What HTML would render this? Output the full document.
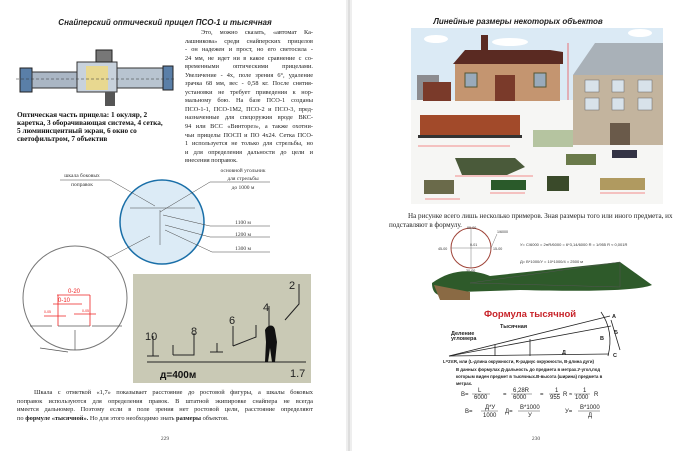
<!DOCTYPE html>
<html><head><meta charset="utf-8"><style>
html,body{margin:0;padding:0;background:#fff;}
body{width:700px;height:451px;overflow:hidden;position:relative;font-family:"Liberation Serif",serif;}
.col{position:absolute;font-size:6.3px;line-height:8.55px;color:#222;}
.col div{text-align:justify;text-align-last:justify;white-space:nowrap;}
.col div.l{text-align-last:left;}
</style></head><body>
<svg width="700" height="451" style="position:absolute;left:0;top:0" font-family="Liberation Sans, sans-serif">
<rect x="346" y="0" width="6" height="451" fill="#eee"/>
<line x1="349" y1="0" x2="349" y2="451" stroke="#ccc"/>
<text x="165" y="25" font-size="8" font-style="italic" font-weight="bold" text-anchor="middle" fill="#222">Снайперский оптический прицел ПСО-1 и тысячная</text>
<g>
<rect x="20" y="68" width="12" height="24" fill="#5a7fa8" stroke="#222"/>
<rect x="32" y="72" width="45" height="16" fill="#aab6c4" stroke="#333"/>
<rect x="77" y="62" width="40" height="30" fill="#c8d2dc" stroke="#333"/>
<rect x="86" y="66" width="22" height="24" fill="#e8d890"/>
<rect x="96" y="50" width="16" height="12" fill="#777" stroke="#222"/>
<rect x="105" y="92" width="10" height="14" fill="#555"/>
<rect x="117" y="68" width="50" height="20" fill="#b8c4d0" stroke="#333"/>
<rect x="163" y="66" width="10" height="24" fill="#5a7fa8" stroke="#222"/>
<line x1="16" y1="79" x2="176" y2="79" stroke="#333" stroke-dasharray="3,2" stroke-width=".6"/>
</g>
<text x="17" y="117" font-family="Liberation Serif, serif" font-weight="bold" font-size="7.3" fill="#111">Оптическая часть прицела: 1 окуляр, 2</text>
<text x="17" y="125" font-family="Liberation Serif, serif" font-weight="bold" font-size="7.3" fill="#111">каретка, 3 оборачивающая система, 4 сетка,</text>
<text x="17" y="133" font-family="Liberation Serif, serif" font-weight="bold" font-size="7.3" fill="#111">5 люминисцентный экран, 6 окно со</text>
<text x="17" y="141" font-family="Liberation Serif, serif" font-weight="bold" font-size="7.3" fill="#111">светофильтром, 7 объектив</text>
<circle cx="162" cy="222" r="42" fill="#dcebf6" stroke="#1a6fa8" stroke-width="1.5"/>
<g stroke="#444" stroke-width=".5" fill="none">
<line x1="60" y1="180" x2="110" y2="180"/><line x1="110" y1="180" x2="155" y2="206"/>
<line x1="210" y1="182" x2="270" y2="182"/><line x1="210" y1="182" x2="160" y2="212"/>
<line x1="210" y1="226" x2="270" y2="226"/><line x1="163" y1="215" x2="210" y2="226"/>
<line x1="210" y1="237" x2="270" y2="237"/><line x1="165" y1="225" x2="210" y2="237"/>
<line x1="212" y1="252" x2="270" y2="252"/><line x1="165" y1="230" x2="212" y2="252"/>
<line x1="58" y1="257" x2="110" y2="257"/><line x1="110" y1="257" x2="150" y2="236"/>
<line x1="130" y1="208" x2="195" y2="208"/><line x1="160" y1="210" x2="160" y2="245"/>
</g>
<g font-family="Liberation Serif, serif" font-size="5.5" fill="#333">
<text x="82" y="177" text-anchor="middle">шкала боковых</text><text x="82" y="186" text-anchor="middle">поправок</text>
<text x="243" y="172" text-anchor="middle">основной угольник</text><text x="243" y="180" text-anchor="middle">для стрельбы</text><text x="243" y="189" text-anchor="middle">до 1000 м</text>
<text x="243" y="224" text-anchor="middle">1100 м</text><text x="243" y="236" text-anchor="middle">1200 м</text><text x="243" y="250" text-anchor="middle">1300 м</text>
<text x="85" y="255" text-anchor="middle">дальномерная</text><text x="85" y="264" text-anchor="middle">шкала</text>
</g>
<circle cx="75" cy="298" r="52" fill="#fff" stroke="#777"/>
<g stroke="#555" stroke-width=".7"><line x1="30" y1="326" x2="52" y2="326"/><line x1="92" y1="326" x2="122" y2="326"/><line x1="58" y1="326" x2="90" y2="326"/><line x1="75" y1="330" x2="75" y2="350"/><line x1="40" y1="348" x2="68" y2="352"/></g>
<g stroke="#e22" stroke-width=".8" fill="none"><line x1="57" y1="295" x2="90" y2="295"/><line x1="53" y1="304" x2="82" y2="304"/><line x1="58" y1="295" x2="58" y2="326"/><line x1="90" y1="295" x2="90" y2="326"/><line x1="74" y1="314" x2="96" y2="314"/><line x1="44" y1="316" x2="66" y2="316"/></g>
<g fill="#e22" font-size="6"><text x="68" y="293">0-20</text><text x="58" y="302">0-10</text><text x="44" y="313" font-size="3.5">0-05</text><text x="82" y="312" font-size="3.5">0-05</text></g>
<rect x="133" y="274" width="178" height="109" fill="#c9c9b5"/>
<g stroke="#222" stroke-width="1" fill="none">
<line x1="147" y1="362" x2="306" y2="362"/>
<path d="M147 356h12M153 356v-20"/><path d="M173 355v-10M173 355h21v-22"/><path d="M210 352h13M217 352v-9"/><path d="M233 346v-20M233 346l23-9v-12"/><path d="M269 340v-34"/><path d="M285 320l14-16v-20"/>
</g>
<path d="M265 330c3-6 9-6 10 0l2 12l-2 20h-3l-2-14l-2 14h-3l1-20z" fill="#111"/>
<g font-size="11" fill="#222"><text x="145" y="340">10</text><text x="191" y="335">8</text><text x="229" y="324">6</text><text x="263" y="311">4</text><text x="289" y="289">2</text><text x="290" y="377">1.7</text></g>
<text x="160" y="378" font-size="10" font-weight="bold" fill="#111">д=400м</text>
<text x="518" y="24" font-size="8" font-style="italic" font-weight="bold" text-anchor="middle" fill="#222">Линейные размеры некоторых объектов</text>
<rect x="411" y="28" width="252" height="72" fill="#dbeaf5"/>
<rect x="411" y="100" width="252" height="104" fill="#f6f6f4"/>
<ellipse cx="436" cy="39" rx="12" ry="4" fill="#fff"/><ellipse cx="510" cy="42" rx="18" ry="4" fill="#fff"/><ellipse cx="640" cy="33" rx="12" ry="4" fill="#fff"/>
<rect x="417" y="75" width="22" height="25" fill="#8c8c90"/><rect x="423" y="82" width="28" height="19" fill="#7a3a2a"/>
<polygon points="453,64 563,64 563,52 550,50 465,50 453,64" fill="#5a2a22"/>
<rect x="481" y="35" width="7" height="17" fill="#5a2a22"/>
<rect x="455" y="64" width="105" height="37" fill="#c49570"/>
<rect x="465" y="73" width="12" height="14" fill="#9ab" stroke="#553"/><rect x="534" y="73" width="12" height="14" fill="#9ab" stroke="#553"/><rect x="495" y="75" width="20" height="26" fill="#7a3a2a"/>
<polygon points="573,75 663,75 663,43 595,43" fill="#a9b1b8"/>
<rect x="573" y="75" width="90" height="70" fill="#c3b49e"/>
<g fill="#d8e2ea" stroke="#666" stroke-width=".5"><rect x="585" y="80" width="14" height="12"/><rect x="612" y="80" width="12" height="12"/><rect x="638" y="80" width="14" height="12"/><rect x="585" y="98" width="14" height="12"/><rect x="612" y="98" width="12" height="12"/><rect x="638" y="98" width="14" height="12"/></g>
<rect x="610" y="123" width="20" height="22" fill="#6a5a4a"/>
<rect x="420" y="115" width="100" height="22" fill="#a24a2a"/><rect x="418" y="135" width="104" height="3" fill="#333"/>
<rect x="533" y="130" width="40" height="17" fill="#b5c4a0"/>
<polygon points="455,158 515,158 525,167 507,175 462,175" fill="#4a5a3a"/>
<rect x="566" y="154" width="30" height="11" fill="#6a7a4a"/><rect x="612" y="150" width="25" height="8" fill="#334"/>
<rect x="424" y="180" width="30" height="14" fill="#6a6a4a"/><rect x="491" y="180" width="35" height="10" fill="#2a5a2a"/><rect x="547" y="176" width="22" height="15" fill="#3a4a2a"/><rect x="600" y="178" width="45" height="12" fill="#b09a60"/>
<g stroke="#e22" stroke-width=".6" fill="none"><line x1="418" y1="146" x2="510" y2="146"/><line x1="455" y1="176" x2="533" y2="176"/><line x1="425" y1="199" x2="460" y2="199"/><line x1="490" y1="193" x2="525" y2="193"/><line x1="600" y1="193" x2="645" y2="193"/><line x1="568" y1="43" x2="568" y2="100"/></g>
<text x="408" y="218" font-family="Liberation Serif, serif" font-size="7.1" fill="#222">На рисунке всего лишь несколько примеров. Зная размеры того или иного предмета, их</text>
<text x="389" y="227" font-family="Liberation Serif, serif" font-size="7.1" fill="#222">подставляют в формулу.</text>
<circle cx="471" cy="248" r="20" fill="none" stroke="#a0453a" stroke-width="1"/>
<g stroke="#555" stroke-width=".4"><line x1="451" y1="248" x2="491" y2="248"/><line x1="471" y1="228" x2="471" y2="268"/><line x1="491" y1="248" x2="497" y2="234"/></g>
<g font-size="3.6" fill="#333"><text x="467" y="229">00-00</text><text x="438" y="250">45-00</text><text x="493" y="250">15-00</text><text x="466" y="272">30-00</text><text x="497" y="233">1/6000</text><text x="470" y="246">0-01</text></g>
<g font-size="4" fill="#333"><text x="520" y="246">У= C/6000 = 2πR/6000 = 6*3,14/6000 R = 1/955 R ≈ 0,001R</text><text x="520" y="263">Д= B*1000/У = 10*1000/4 = 2500 м</text></g>
<path d="M432 283 C450 270 470 268 490 276 L620 262 L652 285 C640 290 600 292 520 290 L460 292 C440 300 432 295 432 283z" fill="#2e5a2a"/>
<path d="M434 285 L470 292 L470 300 L440 300z" fill="#8a6a44"/>
<g stroke="#555" stroke-width=".5" fill="none"><line x1="470" y1="283" x2="620" y2="262"/><line x1="620" y1="262" x2="620" y2="287"/><line x1="470" y1="283" x2="620" y2="287"/></g>
<text x="484" y="317" font-size="9.5" font-weight="bold" fill="#c8242a">Формула тысячной</text>
<g stroke="#222" stroke-width=".8" fill="none"><line x1="449" y1="356" x2="610" y2="316"/><line x1="449" y1="356" x2="611" y2="326"/><line x1="449" y1="356" x2="609" y2="354"/><path d="M601 312 C610 325 612 340 608 356"/><line x1="611" y1="320" x2="620" y2="350"/><line x1="495" y1="345" x2="495" y2="356"/><line x1="530" y1="339" x2="530" y2="356"/></g>
<g font-size="5.5" fill="#222" font-weight="bold"><text x="500" y="328">Тысячная</text><text x="451" y="335">Деление</text><text x="451" y="340">угломера</text><text x="562" y="354">Д</text><text x="600" y="340">В</text><text x="612" y="318">А</text><text x="613" y="357">С</text><text x="614" y="334">Б</text></g>
<g font-size="4.3" fill="#222" font-weight="bold"><text x="443" y="363">L=2πR, или (L-длина окружности, R-радиус окружности, В-длина дуги)</text><text x="456" y="371">В данных формулах Д-дальность до предмета в метрах.У-угол,под</text><text x="456" y="378">которым виден предмет в тысячных.В-высота (ширина) предмета в</text><text x="456" y="385">метрах.</text></g>
<g font-size="6" fill="#222"><text x="461" y="396">B=</text><text x="478" y="392">L</text><text x="474" y="399">6000</text><text x="503" y="396">=</text><text x="513" y="392">6,28R</text><text x="513" y="399">6000</text><text x="540" y="396">=</text><text x="555" y="392">1</text><text x="550" y="399">955</text><text x="563" y="396">R ≈</text><text x="583" y="392">1</text><text x="575" y="399">1000</text><text x="594" y="396">R</text>
<text x="465" y="413">B=</text><text x="485" y="409">Д*У</text><text x="483" y="417">1000</text><text x="505" y="413">Д=</text><text x="520" y="409">B*1000</text><text x="528" y="417">У</text><text x="565" y="413">У=</text><text x="580" y="409">B*1000</text><text x="588" y="417">Д</text></g>
<g stroke="#222" stroke-width=".4"><line x1="472" y1="394" x2="490" y2="394"/><line x1="511" y1="394" x2="532" y2="394"/><line x1="549" y1="394" x2="560" y2="394"/><line x1="574" y1="394" x2="590" y2="394"/><line x1="481" y1="411" x2="498" y2="411"/><line x1="518" y1="411" x2="540" y2="411"/><line x1="578" y1="411" x2="600" y2="411"/></g>
<g font-family="Liberation Serif, serif" font-size="5.5" fill="#444"><text x="165" y="440" text-anchor="middle">229</text><text x="536" y="440" text-anchor="middle">230</text></g>
</svg>
<div class="col" style="left:185px;top:29px;width:128px">
<div style="padding-left:16px">Это, можно сказать, «автомат Ка-</div>
<div>лашникова» среди снайперских прицелов</div>
<div>- он надежен и прост, но его светосила -</div>
<div>24 мм, не идет ни в какое сравнение с со-</div>
<div>временными оптическими прицелами.</div>
<div>Увеличение - 4х, поле зрения 6°, удаление</div>
<div>зрачка 68 мм, вес - 0,58 кг. После снятия-</div>
<div>установки не требует приведения к нор-</div>
<div>мальному бою. На базе ПСО-1 созданы</div>
<div>ПСО-1-1, ПСО-1М2, ПСО-2 и ПСО-3, пред-</div>
<div>назначенные для спецоружия вроде ВКС-</div>
<div>94 или ВСС «Винторез», а также охотни-</div>
<div>чьи прицелы ПОСП и ПО 4х24. Сетка ПСО-</div>
<div>1 используется не только для стрельбы, но</div>
<div>и для определения дальности до цели и</div>
<div class="l">внесения поправок.</div>
</div>
<div class="col" style="left:17px;top:389px;width:296px;line-height:8.6px;font-size:6.4px">
<div style="padding-left:17px">Шкала с отметкой «1,7» показывает расстояние до ростовой фигуры, а шкалы боковых</div>
<div>поправок используются для определения правок. В штатной экипировке снайпера не всегда</div>
<div>имеется дальномер. Поэтому если в поле зрения нет ростовой цели, расстояние определяют</div>
<div class="l">по <b>формуле «тысячной».</b> Но для этого необходимо знать <b>размеры</b> объектов.</div>
</div>
</body></html>
